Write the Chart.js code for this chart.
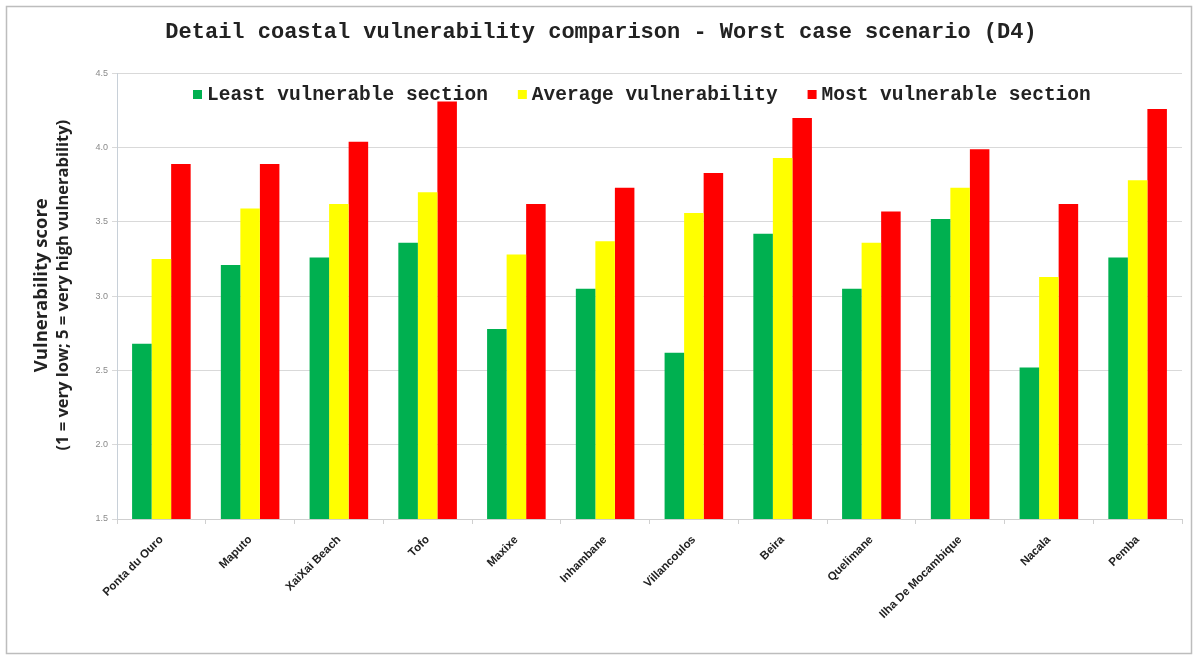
<!DOCTYPE html>
<html>
<head>
<meta charset="utf-8">
<script src="https://cdn.jsdelivr.net/npm/chart.js@4.4.1/dist/chart.umd.min.js"></script>
<style>
  html, body { margin: 0; padding: 0; background: #ffffff; }
  #wrap { width: 1197px; height: 657px; position: relative; }
</style>
</head>
<body>
<div id="wrap"><canvas id="chart" width="1197" height="657"></canvas></div>
<script>
// Coastal sites along the Mozambique coast
const sites = ['Ponta du Ouro', 'Maputo', 'XaiXai Beach', 'Tofo', 'Maxixe', 'Inhambane',
               'Villancoulos', 'Beira', 'Quelimane', 'Ilha De Mocambique', 'Nacala', 'Pemba'];

// Vulnerability scores per site (1 = very low, 5 = very high)
const leastVulnerable = [2.68, 3.21, 3.26, 3.36, 2.78, 3.05, 2.62, 3.42, 3.05, 3.52, 2.52, 3.26];
const averageVulnerability = [3.25, 3.59, 3.62, 3.70, 3.28, 3.37, 3.56, 3.93, 3.36, 3.73, 3.13, 3.78];
const mostVulnerable = [3.89, 3.89, 4.04, 4.31, 3.62, 3.73, 3.83, 4.20, 3.57, 3.99, 3.62, 4.26];

const seriesNames = ['Least vulnerable section', 'Average vulnerability', 'Most vulnerable section'];
const seriesColors = ['#00b050', '#ffff00', '#ff0000'];

const yMin = 1.5, yMax = 4.5, yStep = 0.5;

const chartTitle = 'Detail coastal vulnerability comparison - Worst case scenario (D4)';
const yTitleMain = 'Vulnerability score';
const yTitleSub = '(1 = very low; 5 = very high vulnerability)';

// White background with a thin grey frame around the whole chart
const framePlugin = {
  id: 'frame',
  beforeDraw(chart) {
    const ctx = chart.ctx;
    ctx.save();
    ctx.fillStyle = '#ffffff';
    ctx.fillRect(0, 0, chart.width, chart.height);
    ctx.strokeStyle = '#bdbdbd';
    ctx.lineWidth = 1.5;
    ctx.strokeRect(6.5, 6.5, chart.width - 12, chart.height - 10);
    ctx.restore();
  }
};

// Two-line rotated y-axis title with different sizes
const yTitlePlugin = {
  id: 'yTitle',
  afterDraw(chart) {
    const ctx = chart.ctx;
    const area = chart.chartArea;
    const cy = (area.top + area.bottom) / 2 - 11;
    ctx.save();
    ctx.fillStyle = '#222222';
    ctx.textAlign = 'center';
    ctx.textBaseline = 'middle';
    ctx.translate(42, cy);
    ctx.rotate(-Math.PI / 2);
    ctx.font = 'bold 18.5px "Open Sans", sans-serif';
    ctx.fillText(yTitleMain, 0, 0);
    ctx.font = 'bold 16.5px "Open Sans", sans-serif';
    ctx.fillText(yTitleSub, 0, 21);
    ctx.restore();
  }
};

// Legend laid over the top of the plot area
const inlineLegendPlugin = {
  id: 'inlineLegend',
  afterDraw(chart) {
    const ctx = chart.ctx;
    ctx.save();
    ctx.font = 'bold 19.5px "Liberation Mono", "Courier New", monospace';
    ctx.textBaseline = 'middle';
    ctx.textAlign = 'left';
    let x = 193;
    const y = 95;
    chart.data.datasets.forEach(ds => {
      ctx.fillStyle = ds.backgroundColor;
      ctx.fillRect(x, y - 5, 9, 9);
      x += 14;
      ctx.fillStyle = '#222222';
      ctx.fillText(ds.label, x, y);
      x += ctx.measureText(ds.label).width + 30;
    });
    ctx.restore();
  }
};

const ctx = document.getElementById('chart').getContext('2d');
new Chart(ctx, {
  type: 'bar',
  data: {
    labels: sites,
    datasets: [
      { label: seriesNames[0], data: leastVulnerable, backgroundColor: seriesColors[0] },
      { label: seriesNames[1], data: averageVulnerability, backgroundColor: seriesColors[1] },
      { label: seriesNames[2], data: mostVulnerable, backgroundColor: seriesColors[2] }
    ]
  },
  options: {
    responsive: false,
    animation: false,
    layout: { padding: { left: 20, right: 15, top: 6, bottom: 0 } },
    datasets: {
      bar: { categoryPercentage: 0.66, barPercentage: 1.0, borderWidth: 0 }
    },
    plugins: {
      legend: { display: false },
      tooltip: { enabled: false },
      title: {
        display: true,
        text: chartTitle,
        color: '#222222',
        font: { family: '"Liberation Mono", "Courier New", monospace', size: 22, weight: 'bold' },
        padding: { top: 13, bottom: 28 }
      }
    },
    scales: {
      x: {
        grid: { display: true, drawOnChartArea: false, offset: true, tickLength: 5, color: '#d0d0d0' },
        border: { color: '#cfcfcf' },
        ticks: {
          autoSkip: false,
          maxRotation: 45,
          minRotation: 45,
          padding: 9,
          color: '#222222',
          font: { family: '"Liberation Sans", Arial, sans-serif', size: 11.5, weight: 'bold' }
        },
        afterFit(scale) { scale.height = 138; }
      },
      y: {
        min: yMin,
        max: yMax,
        grid: { color: '#d9d9d9', tickLength: 5 },
        border: { color: '#c8d0d8' },
        ticks: {
          stepSize: yStep,
          padding: 4,
          color: '#8a8a8a',
          font: { family: '"Liberation Sans", Arial, sans-serif', size: 9 },
          callback: v => v.toFixed(1)
        },
        afterFit(scale) { scale.width = 97; }
      }
    }
  },
  plugins: [framePlugin, yTitlePlugin, inlineLegendPlugin]
});
</script>
</body>
</html>
